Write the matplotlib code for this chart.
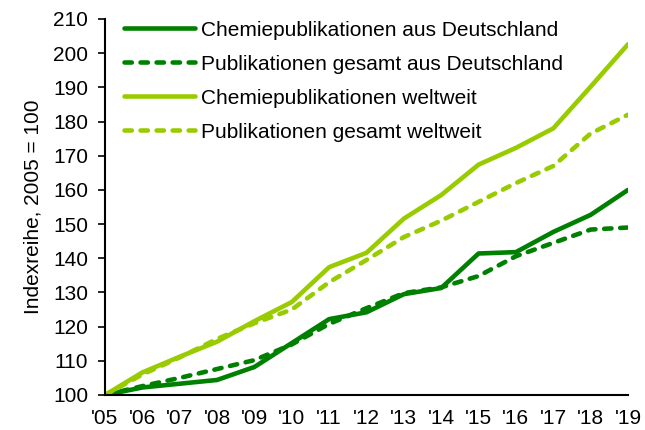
import matplotlib
matplotlib.use("Agg")
import matplotlib.pyplot as plt

years = list(range(2005, 2020))
year_labels = ["'05", "'06", "'07", "'08", "'09", "'10", "'11", "'12",
               "'13", "'14", "'15", "'16", "'17", "'18", "'19"]

chem_de = [100, 102.2, 103.3, 104.4, 108.2, 115.2, 122.2, 124.2,
           129.5, 131.3, 141.4, 141.8, 147.7, 152.7, 160.0]
total_de = [100, 102.6, 105.0, 107.6, 110.2, 114.8, 120.8, 125.4,
            129.8, 131.5, 134.8, 140.6, 144.5, 148.4, 149.0]
chem_world = [100, 106.6, 111.2, 115.6, 121.6, 127.2, 137.4, 141.6,
              151.6, 158.5, 167.4, 172.3, 178.0, 190.2, 202.6]
total_world = [100, 106.0, 111.0, 116.4, 121.0, 125.0, 133.0, 139.5,
               146.2, 151.0, 156.5, 162.0, 167.0, 176.5, 182.0]

series_labels = ["Chemiepublikationen aus Deutschland",
                 "Publikationen gesamt aus Deutschland",
                 "Chemiepublikationen weltweit",
                 "Publikationen gesamt weltweit"]

dark = "#008000"
light = "#99CC00"

plt.rcParams["font.family"] = ["Liberation Sans", "DejaVu Sans"]

fig = plt.figure(figsize=(6.45, 4.30), dpi=100)
ax = fig.add_axes([105 / 645, 1 - 395 / 430, (628 - 105) / 645, (395 - 19) / 430])

lw = 3.3
dash = (0, (1.6, 1.9))
ax.plot(years, chem_de, color=dark, lw=lw, solid_capstyle="round", label=series_labels[0])
ax.plot(years, total_de, color=dark, lw=lw, ls=dash, dash_capstyle="round",
        label=series_labels[1])
ax.plot(years, chem_world, color=light, lw=lw, solid_capstyle="round", label=series_labels[2])
ax.plot(years, total_world, color=light, lw=lw, ls=dash, dash_capstyle="round",
        label=series_labels[3])

ax.set_xlim(2005, 2019)
ax.set_ylim(100, 210)
ax.set_yticks(range(100, 211, 10))
ax.set_xticks(years)
ax.set_xticklabels(year_labels)
ax.tick_params(axis="x", length=0, pad=10, labelsize=15)
ax.tick_params(axis="y", length=5, width=1.2, pad=7, labelsize=15)
for side in ["top", "right"]:
    ax.spines[side].set_visible(False)
for side in ["left", "bottom"]:
    ax.spines[side].set_linewidth(1.5)
ax.set_ylabel("Indexreihe, 2005 = 100", fontsize=15, labelpad=8)

ax.legend(loc="upper left", bbox_to_anchor=(0.021, 1.018), frameon=False, fontsize=15,
          handlelength=3.4, handletextpad=0.3, labelspacing=0.72, borderaxespad=0)

fig.savefig("out.png", dpi=100)
